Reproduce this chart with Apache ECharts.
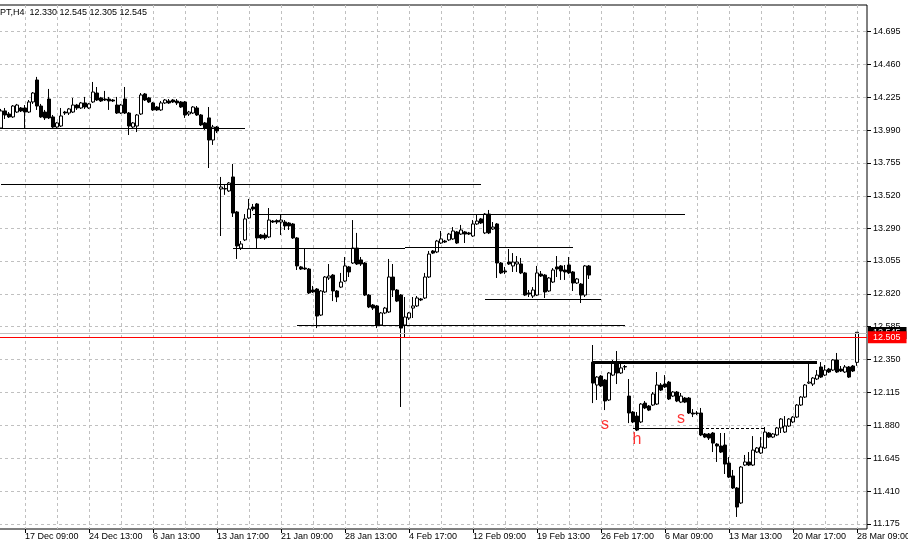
<!DOCTYPE html>
<html><head><meta charset="utf-8">
<script src="https://cdn.jsdelivr.net/npm/echarts@6/dist/echarts.min.js"></script>
<style>html,body{margin:0;padding:0;background:#fff}#c{width:908px;height:544px}</style>
</head><body><div id="c"></div>
<script>
// ---------- DATA ----------
const symbolTitle = 'PT,H4';
const dateLabels = ['17 Dec 09:00','24 Dec 13:00','6 Jan 13:00','13 Jan 17:00','21 Jan 09:00','28 Jan 13:00','4 Feb 17:00','12 Feb 09:00','19 Feb 13:00','26 Feb 17:00','6 Mar 09:00','13 Mar 13:00','20 Mar 17:00','28 Mar 09:00'];
const yTickValues = [11.175,11.410,11.645,11.880,12.115,12.350,12.585,12.820,13.055,13.290,13.520,13.755,13.990,14.225,14.460,14.695];

const opens = [14.005,14.127,14.105,14.084,14.119,14.148,14.148,14.119,14.191,14.348,14.162,14.119,14.212,14.084,14.012,14.019,14.119,14.112,14.119,14.169,14.148,14.184,14.148,14.191,14.255,14.220,14.212,14.212,14.205,14.169,14.112,14.212,14.112,14.012,14.019,14.105,14.248,14.220,14.184,14.155,14.134,14.184,14.198,14.205,14.198,14.191,14.191,14.105,14.112,14.148,14.098,14.041,14.077,13.919,14.012,13.569,13.572,13.555,13.655,13.405,13.147,13.205,13.362,13.440,13.462,13.240,13.240,13.226,13.340,13.343,13.333,13.333,13.326,13.319,13.219,13.012,13.004,12.997,12.847,12.854,12.668,12.833,12.933,12.954,12.840,12.868,12.911,13.012,13.040,13.147,13.062,13.040,12.811,12.740,12.733,12.597,12.683,12.690,12.940,12.847,12.811,12.597,12.647,12.718,12.733,12.783,12.790,12.940,13.126,13.119,13.183,13.197,13.205,13.212,13.262,13.247,13.262,13.255,13.233,13.319,13.355,13.255,13.390,13.283,13.319,13.040,12.983,13.047,13.019,13.033,13.033,12.969,12.826,12.804,12.811,12.961,12.954,12.840,12.904,13.012,13.019,12.990,13.026,12.976,12.897,12.890,12.811,13.019,12.332,12.168,12.232,12.204,12.061,12.239,12.325,12.254,12.300,12.089,11.975,11.946,11.904,12.039,12.018,12.025,12.032,12.168,12.175,12.189,12.089,12.118,12.046,12.075,12.075,11.968,11.965,11.968,11.818,11.818,11.825,11.746,11.732,11.739,11.610,11.518,11.432,11.325,11.596,11.618,11.596,11.689,11.682,11.718,11.825,11.796,11.811,11.861,11.832,11.875,11.904,11.939,12.025,12.082,12.182,12.175,12.211,12.297,12.239,12.282,12.275,12.347,12.282,12.261,12.297,12.304,12.330];
const closes = [14.127,14.098,14.084,14.162,14.169,14.127,14.119,14.191,14.255,14.162,14.084,14.077,14.077,14.012,14.041,14.091,14.112,14.141,14.169,14.148,14.184,14.155,14.177,14.262,14.205,14.198,14.205,14.198,14.198,14.112,14.169,14.112,14.019,14.041,14.098,14.241,14.205,14.191,14.134,14.134,14.184,14.205,14.184,14.191,14.184,14.155,14.098,14.119,14.155,14.098,14.027,14.005,13.919,14.012,13.984,13.583,13.569,13.612,13.397,13.162,13.176,13.355,13.426,13.426,13.219,13.219,13.219,13.347,13.333,13.333,13.347,13.305,13.305,13.219,13.019,12.997,12.997,12.826,12.833,12.661,12.840,12.940,12.947,12.840,12.797,12.904,13.019,12.976,13.147,13.033,13.033,12.811,12.726,12.718,12.597,12.683,12.718,12.940,12.847,12.768,12.575,12.654,12.683,12.733,12.790,12.776,12.940,13.104,13.111,13.197,13.212,13.190,13.247,13.269,13.183,13.276,13.247,13.247,13.319,13.340,13.326,13.390,13.255,13.297,13.040,12.969,12.976,13.033,13.047,13.047,12.969,12.811,12.818,12.847,12.969,12.947,12.833,12.933,12.990,12.997,12.983,12.976,12.969,12.897,12.926,12.811,13.019,12.954,12.182,12.225,12.161,12.054,12.254,12.325,12.254,12.290,12.297,11.968,11.904,11.846,12.032,12.004,11.989,12.104,12.168,12.132,12.154,12.068,12.118,12.054,12.089,12.046,11.968,11.961,11.968,11.811,11.796,11.789,11.753,11.732,11.689,11.603,11.510,11.432,11.296,11.582,11.618,11.596,11.703,11.718,11.725,11.832,11.796,11.818,11.861,11.925,11.875,11.925,11.939,12.025,12.082,12.168,12.189,12.218,12.239,12.225,12.275,12.261,12.347,12.261,12.268,12.297,12.225,12.268,12.545];
const lows = [13.998,14.069,14.077,14.077,14.112,14.119,14.005,14.112,14.177,14.134,14.077,14.062,14.069,14.005,13.998,14.012,14.098,14.098,14.112,14.134,14.141,14.141,14.141,14.184,14.198,14.191,14.198,14.134,14.191,14.105,14.105,14.105,13.955,14.005,13.976,14.098,14.198,14.184,14.127,14.127,14.127,14.177,14.177,14.184,14.169,14.148,14.077,14.091,14.105,14.091,14.019,13.991,13.719,13.884,13.969,13.233,13.527,13.548,13.369,13.069,13.133,13.197,13.355,13.412,13.147,13.212,13.205,13.219,13.326,13.319,13.240,13.276,13.276,13.212,12.990,12.990,12.990,12.818,12.826,12.575,12.661,12.826,12.919,12.768,12.761,12.861,12.904,12.940,13.033,13.026,13.019,12.804,12.718,12.704,12.575,12.590,12.675,12.683,12.797,12.761,12.011,12.511,12.633,12.647,12.726,12.768,12.783,12.933,13.104,13.111,13.176,13.183,13.197,13.205,13.176,13.240,13.183,13.240,13.226,13.312,13.319,13.247,13.247,13.276,12.933,12.961,12.961,13.026,12.976,12.976,12.961,12.804,12.797,12.790,12.804,12.940,12.790,12.833,12.897,12.940,12.919,12.919,12.961,12.840,12.890,12.754,12.797,12.926,12.039,12.061,12.154,11.989,12.054,12.232,12.175,12.247,12.275,11.896,11.896,11.839,11.896,11.996,11.982,12.018,12.025,12.125,12.147,12.061,12.082,12.046,12.039,12.039,11.961,11.939,11.953,11.803,11.789,11.775,11.689,11.618,11.682,11.532,11.503,11.425,11.225,11.318,11.589,11.589,11.589,11.682,11.675,11.711,11.789,11.789,11.803,11.825,11.825,11.868,11.896,11.932,12.018,12.075,12.175,12.161,12.204,12.218,12.232,12.254,12.268,12.254,12.261,12.254,12.218,12.261,12.305];
const highs = [14.141,14.148,14.119,14.169,14.177,14.155,14.169,14.205,14.262,14.370,14.177,14.134,14.284,14.098,14.048,14.148,14.127,14.148,14.220,14.177,14.191,14.227,14.184,14.334,14.298,14.227,14.270,14.227,14.212,14.227,14.177,14.298,14.119,14.048,14.105,14.255,14.255,14.227,14.191,14.162,14.198,14.212,14.212,14.212,14.212,14.198,14.198,14.127,14.162,14.162,14.105,14.048,14.155,14.027,14.019,13.655,13.598,13.619,13.748,13.412,13.197,13.390,13.498,13.462,13.469,13.247,13.255,13.433,13.347,13.352,13.383,13.347,13.333,13.326,13.226,13.019,13.147,13.004,12.876,12.861,12.847,12.947,13.033,12.961,12.847,12.969,13.083,13.019,13.347,13.255,13.083,13.047,12.818,12.747,12.740,12.690,12.726,13.069,13.033,12.854,12.818,12.797,12.690,12.797,12.804,12.790,12.969,13.126,13.133,13.205,13.269,13.205,13.255,13.297,13.269,13.312,13.269,13.262,13.347,13.383,13.362,13.397,13.419,13.333,13.326,13.047,13.012,13.140,13.111,13.090,13.076,12.976,12.847,12.868,13.019,12.983,12.961,12.940,13.004,13.090,13.026,13.026,13.083,12.983,12.933,12.897,13.026,13.026,12.454,12.232,12.239,12.211,12.261,12.347,12.411,12.332,12.311,12.211,11.982,11.975,12.039,12.054,12.025,12.118,12.261,12.182,12.239,12.197,12.125,12.125,12.111,12.082,12.082,11.996,11.982,12.004,11.825,11.825,11.832,11.753,11.825,11.825,11.653,11.561,11.439,11.589,11.668,11.689,11.803,11.725,11.796,11.868,11.832,11.825,11.868,11.932,11.946,11.932,11.946,12.032,12.089,12.175,12.325,12.225,12.275,12.332,12.311,12.290,12.354,12.397,12.304,12.311,12.304,12.311,12.545];

// horizontal levels drawn on the chart: bar index range and price
const levelLines = [
  {from:-0.5, to:61, price:14.005},
  {from:-0.5, to:120, price:13.605},
  {from:63, to:171, price:13.391},
  {from:58, to:100.5, price:13.148},
  {from:100.5, to:143, price:13.155},
  {from:74, to:156, price:12.597},
  {from:121, to:150, price:12.781}
];
const necklineLine = {from:148, to:204, price:12.329};
const supportSolid = {from:158, to:175, price:11.861};
const supportDashed = {from:175, to:191, price:11.861};
const bidPrice = 12.545;
const alertPrice = 12.505;
const patternLabels = [
  {bar:151, price:11.882, text:'s'},
  {bar:159, price:11.775, text:'h'},
  {bar:170, price:11.925, text:'s'}
];

// ---------- CHART ----------
const EMPTY_RIGHT = 2;
const N = opens.length + EMPTY_RIGHT;
const categories = Array.from({length:N}, (_, i) => String(i));
const candleData = opens.map((o, i) => [o, closes[i], lows[i], highs[i]]);
const FIRST_LABEL = 6, LABEL_STEP = 16, GRID_STEP = 8;
const isLabelIdx = i => i >= FIRST_LABEL && (i - FIRST_LABEL) % LABEL_STEP === 0;
const isGridIdx = i => i >= FIRST_LABEL && (i - FIRST_LABEL) % GRID_STEP === 0;
const FONT = '"Liberation Sans", Arial, sans-serif';
const GRID_COLOR = '#c0c0c0';
const DASH = [3, 3];

function seg(l, style) {
  return [{coord:[l.from, l.price], lineStyle: style}, {coord:[l.to, l.price]}];
}
const blackLine = {color:'#000', width:1, type:'solid'};
const markLineData = levelLines.map(l => seg(l, blackLine));
markLineData.push(seg(necklineLine, {color:'#000', width:3, type:'solid'}));
markLineData.push(seg(supportSolid, blackLine));
markLineData.push(seg(supportDashed, {color:'#000', width:1, type:[3,2]}));
markLineData.push({yAxis: bidPrice, lineStyle:{color:'#c0c0c0', width:1, type:'solid'},
  label:{show:true, position:'end', distance:1, formatter: bidPrice.toFixed(3), color:'#fff', backgroundColor:'#000',
    padding:[2,6,1,5], fontSize:9, fontFamily:FONT}});
markLineData.push({yAxis: alertPrice, lineStyle:{color:'#ff0000', width:1, type:'solid'},
  label:{show:true, position:'end', distance:1, formatter: alertPrice.toFixed(3), color:'#fff', backgroundColor:'#ff0000',
    padding:[2,6,1,5], fontSize:9, fontFamily:FONT}});

const last = opens.length - 1;
const header = symbolTitle + '  ' + [opens[last], highs[last], lows[last], closes[last]].map(v => v.toFixed(3)).join(' ');

const chart = echarts.init(document.getElementById('c'), null, {renderer:'canvas'});
chart.setOption({
  animation:false,
  backgroundColor:'#fff',
  graphic:[{type:'text', left:0, top:8, z:100, style:{text:header, font:'9px ' + FONT, fill:'#000'}}],
  grid:{left:-1, right:41, top:5, bottom:15, show:true, borderColor:'#000', borderWidth:1, backgroundColor:'#fff',
        containLabel:false, outerBoundsMode:'none'},
  xAxis:{
    type:'category', data:categories, boundaryGap:true,
    axisLine:{show:false},
    axisTick:{show:true, alignWithLabel:true, interval:(i) => isLabelIdx(i), length:4, lineStyle:{color:'#000'}},
    axisLabel:{interval:(i) => isLabelIdx(i), formatter:(v, i) => dateLabels[(i - FIRST_LABEL) / LABEL_STEP],
      align:'left', margin:3, color:'#000', fontSize:9, fontFamily:FONT},
    splitLine:{show:true, alignWithLabel:true, interval:(i) => isGridIdx(i), lineStyle:{color:GRID_COLOR, type:DASH}}
  },
  yAxis:{
    type:'value', position:'right', min:11.139, max:14.884,
    axisLine:{show:false},
    axisTick:{show:true, customValues:yTickValues, length:4, lineStyle:{color:'#000'}},
    axisLabel:{customValues:yTickValues, formatter:(v) => v.toFixed(3), margin:6, color:'#000', fontSize:9, fontFamily:FONT},
    splitLine:{show:true, lineStyle:{color:GRID_COLOR, type:DASH}}
  },
  series:[
    {
      type:'candlestick', name:'price', data:candleData, barWidth:3,
      itemStyle:{color:'#fff', color0:'#000', borderColor:'#000', borderColor0:'#000', borderWidth:1},
      markLine:{silent:true, symbol:['none','none'], label:{show:false}, data:markLineData}
    },
    {
      type:'scatter', name:'pattern', symbolSize:0,
      data: patternLabels.map(p => ({value:[p.bar, p.price], name:p.text})),
      label:{show:true, position:'inside', formatter:(p) => p.name, color:'#ff0000', fontSize:16, fontFamily:FONT}
    }
  ]
});
</script></body></html>
